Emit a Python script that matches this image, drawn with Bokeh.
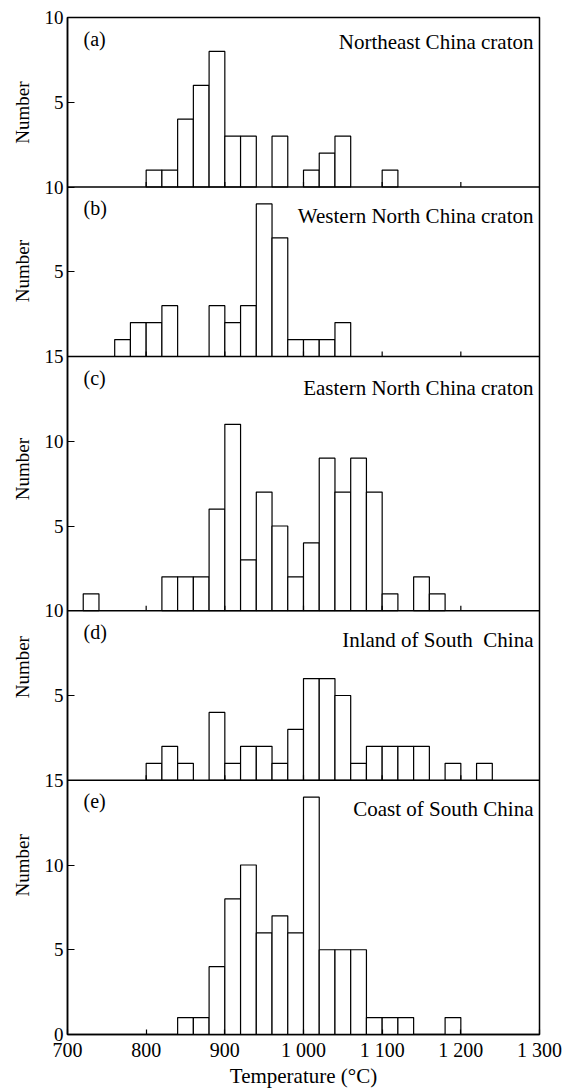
import numpy as np
from bokeh.plotting import figure
from bokeh.layouts import row
from bokeh.models import Range1d, FixedTicker, Span, ColumnDataSource
from bokeh.embed import file_html
from bokeh.resources import INLINE
from bokeh.core.properties import value

# ---------------- data ----------------
bin_width = 20
panel_letters = ["(a)", "(b)", "(c)", "(d)", "(e)"]
panel_names = ["Northeast China craton", "Western North China craton",
               "Eastern North China craton", "Inland of South \u00a0China",
               "Coast of South China"]
panel_ymax = [10, 10, 15, 10, 15]

a_bins = [800, 820, 840, 860, 880, 900, 920, 960, 1000, 1020, 1040, 1100]
a_counts = [1, 1, 4, 6, 8, 3, 3, 3, 1, 2, 3, 1]
b_bins = [760, 780, 800, 820, 880, 900, 920, 940, 960, 980, 1000, 1020, 1040]
b_counts = [1, 2, 2, 3, 3, 2, 3, 9, 7, 1, 1, 1, 2]
c_bins = [720, 820, 840, 860, 880, 900, 920, 940, 960, 980, 1000, 1020, 1040,
          1060, 1080, 1100, 1140, 1160]
c_counts = [1, 2, 2, 2, 6, 11, 3, 7, 5, 2, 4, 9, 7, 9, 7, 1, 2, 1]
d_bins = [800, 820, 840, 880, 900, 920, 940, 960, 980, 1000, 1020, 1040, 1060,
          1080, 1100, 1120, 1140, 1180, 1220]
d_counts = [1, 2, 1, 4, 1, 2, 2, 1, 3, 6, 6, 5, 1, 2, 2, 2, 2, 1, 1]
e_bins = [840, 860, 880, 900, 920, 940, 960, 980, 1000, 1020, 1040, 1060, 1080,
          1100, 1120, 1180]
e_counts = [1, 1, 4, 8, 10, 6, 7, 6, 14, 5, 5, 5, 1, 1, 1, 1]

x_ticks = [700, 800, 900, 1000, 1100, 1200, 1300]
x_tick_labels = ["700", "800", "900", "1 000", "1 100", "1 200", "1 300"]
y_step = 5
x_label = "Temperature (\u00b0C)"
y_label = "Number"

panels_bins = [a_bins, b_bins, c_bins, d_bins, e_bins]
panels_counts = [a_counts, b_counts, c_counts, d_counts, e_counts]

# ---------------- layout ----------------
FONT = "Liberation Serif"
W, H = 566, 1090
LEFT_W = 36
TOP, BOTTOM = 17, 54
total = sum(panel_ymax)
px_per_unit = (H - TOP - BOTTOM) / total

p = figure(width=W - LEFT_W, height=H, output_backend="svg", toolbar_location=None,
           x_range=Range1d(700, 1300), y_range=Range1d(0, total),
           min_border_left=67 - LEFT_W, min_border_right=27, min_border_top=TOP,
           min_border_bottom=BOTTOM)
p.xgrid.visible = False
p.ygrid.visible = False
p.outline_line_color = "black"
p.outline_line_width = 1.5
p.background_fill_color = "white"
p.border_fill_color = "white"

# side strip holding the per-panel "Number" labels, same vertical scale
side = figure(width=LEFT_W, height=H, output_backend="svg", toolbar_location=None,
              x_range=Range1d(0, LEFT_W),
              y_range=Range1d(-BOTTOM / px_per_unit, total + TOP / px_per_unit),
              min_border_left=0, min_border_right=0, min_border_top=0,
              min_border_bottom=0)
side.axis.visible = False
side.grid.visible = False
side.outline_line_color = None
side.border_fill_color = "white"
side.background_fill_color = "white"

# offsets (bottom of each panel); panel a on top
offsets = []
acc = total
for ymax in panel_ymax:
    acc -= ymax
    offsets.append(acc)

y_ticks = []
y_over = {}
for off, ymax in zip(offsets, panel_ymax):
    for v in range(0, ymax + 1, y_step):
        t = off + v
        if v == 0 and off != 0:
            continue
        y_ticks.append(t)
        y_over[t] = str(v)

name_dy = [24, 29, 31, 29, 29]
for i, (bins, counts, off) in enumerate(zip(panels_bins, panels_counts, offsets)):
    left = np.array(bins, dtype=float)
    cnt = np.array(counts, dtype=float)
    src = ColumnDataSource(dict(left=left, right=left + bin_width,
                                bottom=np.full(len(left), off, dtype=float),
                                top=off + cnt))
    p.quad(left="left", right="right", bottom="bottom", top="top", source=src,
           fill_color="white", line_color="black", line_width=1.2)
    if off != 0:
        xt = np.array(x_ticks[1:-1], dtype=float)
        p.segment(x0=xt, x1=xt, y0=np.full(len(xt), off, dtype=float),
                  y1=np.full(len(xt), off + 0.3), line_color="black", line_width=1.2)
        p.add_layout(Span(location=off, dimension="width", line_color="black",
                          line_width=1.5))
    top = off + panel_ymax[i]
    p.text(x=[700], y=[top], text=[panel_letters[i]], x_offset=16, y_offset=21,
           text_font=value(FONT), text_font_size="20px", text_align="left",
           text_baseline="middle", text_color="black")
    p.text(x=[1300], y=[top], text=[panel_names[i]], x_offset=-6,
           y_offset=name_dy[i],
           text_font=value(FONT), text_font_size="21px", text_align="right",
           text_baseline="middle", text_color="black")
    side.text(x=[22], y=[off + panel_ymax[i] / 2], text=[y_label], angle=np.pi / 2,
              text_font=value(FONT), text_font_size="19px", text_align="center",
              text_baseline="middle", text_color="black")

p.xaxis.ticker = FixedTicker(ticks=x_ticks)
p.xaxis.major_label_overrides = {t: l for t, l in zip(x_ticks, x_tick_labels)}
p.xaxis.axis_label = x_label
p.yaxis.ticker = FixedTicker(ticks=y_ticks)
p.yaxis.major_label_overrides = y_over
for ax in (p.xaxis, p.yaxis):
    ax.minor_tick_line_color = None
    ax.major_tick_out = 0
    ax.axis_line_width = 1.5
    ax.major_tick_line_width = 1.2
    ax.major_label_text_font = FONT
    ax.major_label_text_font_size = "20px"
    ax.major_label_text_color = "black"
    ax.axis_label_text_font = FONT
    ax.axis_label_text_font_size = "21px"
    ax.axis_label_text_font_style = "normal"
    ax.axis_label_text_color = "black"
p.yaxis.major_label_text_font_size = "19px"
p.xaxis.major_tick_in = 5
p.yaxis.major_tick_in = 7
p.xaxis.major_label_standoff = 4
p.xaxis.axis_label_standoff = 0
p.yaxis.major_label_standoff = 4
p.yaxis.major_label_orientation = "horizontal"

layout = row(side, p, spacing=0)
open("out.html", "w").write(file_html(layout, INLINE))
